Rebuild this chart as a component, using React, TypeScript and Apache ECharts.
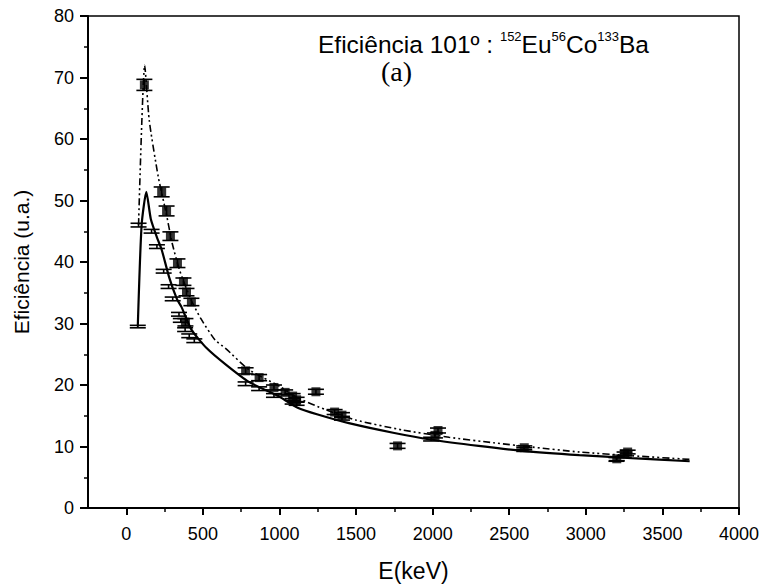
import React, { useEffect, useRef } from "react";
import * as echarts from "echarts";

// Filled squares (with vertical error bars)
const squareE = [118, 231, 263, 288, 334, 373, 393, 425, 386, 779, 867, 964, 1037, 1086, 1112, 1238, 1360, 1408, 1771, 2015, 2035, 2598, 3202, 3253, 3273];
const squareY = [68.8, 51.4, 48.3, 44.2, 39.8, 36.8, 35.1, 33.5, 30.2, 22.3, 21.2, 19.6, 18.8, 18.2, 17.6, 18.9, 15.6, 15.1, 10.1, 11.8, 12.6, 9.8, 8.0, 8.8, 9.1];
const squareErr = [0.9, 0.8, 0.8, 0.7, 0.7, 0.6, 0.6, 0.6, 0.6, 0.5, 0.5, 0.4, 0.4, 0.4, 0.4, 0.4, 0.4, 0.4, 0.4, 0.4, 0.4, 0.3, 0.3, 0.3, 0.3];

// Second data set (error bars only), lying on the solid curve
const crossE = [75, 80, 165, 200, 244, 276, 303, 344, 356, 384, 411, 444, 779, 867, 964, 1086, 1112, 1408, 1990, 2598, 3200];
const crossY = [29.5, 46.0, 45.0, 42.5, 38.5, 36.0, 34.0, 31.5, 30.5, 29.0, 28.0, 27.2, 20.2, 19.4, 18.3, 17.2, 17.0, 14.6, 11.2, 9.5, 7.9];
const crossErr = [0.2, 0.3, 0.3, 0.3, 0.3, 0.3, 0.3, 0.3, 0.3, 0.3, 0.3, 0.3, 0.3, 0.3, 0.3, 0.3, 0.3, 0.3, 0.3, 0.3, 0.3];

// Solid fit curve
const solidE = [75, 100, 131, 160, 200, 231, 280, 330, 360, 425, 524, 650, 800, 1000, 1119, 1250, 1453, 1750, 1996, 2300, 2586, 2958, 3300, 3678];
const solidY = [29.5, 46.0, 51.4, 47.0, 44.0, 42.0, 37.5, 34.0, 32.7, 29.0, 26.0, 23.3, 20.5, 18.1, 16.3, 15.2, 13.8, 12.2, 11.1, 10.1, 9.3, 8.6, 8.1, 7.6];

// Dash-dot-dot fit curve
const dashE = [80, 120, 150, 209, 260, 300, 350, 420, 484, 580, 646, 800, 1000, 1119, 1300, 1498, 1800, 2107, 2400, 2651, 2958, 3300, 3678];
const dashY = [46.0, 72.0, 63.0, 53.8, 48.0, 43.0, 38.5, 34.0, 30.9, 27.3, 26.0, 22.5, 19.8, 17.9, 16.0, 14.3, 12.7, 11.5, 10.6, 9.9, 9.1, 8.5, 7.9];

const xTickValues = [0, 500, 1000, 1500, 2000, 2500, 3000, 3500, 4000];
const xMinorTickValues = [250, 750, 1250, 1750, 2250, 2750, 3250, 3750];

const FONT = "Liberation Sans, Arial, sans-serif";

export default function App() {
  const ref = useRef<HTMLDivElement>(null);
  useEffect(() => {
    if (!ref.current) return;
    const chart = echarts.init(ref.current, null, { renderer: "svg" });

    const errRender = (capHalf: number) => (params: any, api: any) => {
      const x = api.value(0);
      const y = api.value(1);
      const e = api.value(2);
      const top = api.coord([x, y + e]);
      const bot = api.coord([x, y - e]);
      const st = { stroke: "#000", lineWidth: 1.6 };
      return {
        type: "group",
        children: [
          { type: "line", shape: { x1: top[0], y1: top[1], x2: bot[0], y2: bot[1] }, style: st },
          { type: "line", shape: { x1: top[0] - capHalf, y1: top[1], x2: top[0] + capHalf, y2: top[1] }, style: st },
          { type: "line", shape: { x1: bot[0] - capHalf, y1: bot[1], x2: bot[0] + capHalf, y2: bot[1] }, style: st },
        ],
      };
    };

    const option: any = {
      animation: false,
      backgroundColor: "#fff",
      grid: { left: 88, right: 25, top: 16, bottom: 80, show: true, borderColor: "#000", borderWidth: 1.5, backgroundColor: "transparent" },
      xAxis: [
        {
          type: "value",
          min: -250,
          max: 4000,
          axisLine: { onZero: false, lineStyle: { color: "#000", width: 2 } },
          axisTick: { show: true, customValues: xTickValues, length: 7, lineStyle: { color: "#000", width: 2 } },
          axisLabel: { customValues: xTickValues, color: "#000", fontSize: 18, fontFamily: FONT, margin: 17, formatter: (v: number) => String(v) },
          splitLine: { show: false },
          name: "E(keV)",
          nameLocation: "middle",
          nameGap: 51,
          nameTextStyle: { color: "#000", fontSize: 23, fontFamily: FONT },
        },
        {
          type: "value",
          min: -250,
          max: 4000,
          position: "bottom",
          axisLine: { show: false, onZero: false },
          axisTick: { show: true, customValues: xMinorTickValues, length: 4, lineStyle: { color: "#000", width: 1.5 } },
          axisLabel: { show: false },
          splitLine: { show: false },
        },
      ],
      yAxis: {
        type: "value",
        min: 0,
        max: 80,
        interval: 10,
        axisLine: { show: true, onZero: false, lineStyle: { color: "#000", width: 2 } },
        axisTick: { show: true, length: 8, lineStyle: { color: "#000", width: 2 } },
        minorTick: { show: true, splitNumber: 2, length: 4, lineStyle: { color: "#000", width: 1.5 } },
        axisLabel: { color: "#000", fontSize: 18, fontFamily: FONT, margin: 14 },
        splitLine: { show: false },
        name: "Eficiência (u.a.)",
        nameLocation: "middle",
        nameGap: 56,
        nameTextStyle: { color: "#000", fontSize: 21, fontFamily: FONT },
      },
      series: [
        {
          type: "line",
          data: dashE.map((e, i) => [e, dashY[i]]),
          showSymbol: false,
          smooth: 0.2,
          lineStyle: { color: "#000", width: 1.6, type: [7, 3, 2, 3, 2, 3] },
          z: 2,
        },
        {
          type: "line",
          data: solidE.map((e, i) => [e, solidY[i]]),
          showSymbol: false,
          smooth: 0.2,
          lineStyle: { color: "#000", width: 2.2, type: "solid" },
          z: 2,
        },
        {
          type: "custom",
          renderItem: errRender(8),
          data: crossE.map((e, i) => [e, crossY[i], crossErr[i]]),
          encode: { x: 0, y: 1 },
          z: 3,
        },
        {
          type: "custom",
          renderItem: errRender(8),
          data: squareE.map((e, i) => [e, squareY[i], squareErr[i]]),
          encode: { x: 0, y: 1 },
          z: 3,
        },
        {
          type: "scatter",
          data: squareE.map((e, i) => [e, squareY[i]]),
          symbol: "rect",
          symbolSize: 9,
          itemStyle: { color: "#000" },
          z: 4,
        },
      ],
      graphic: [
        {
          type: "text",
          left: 318,
          top: 30,
          style: {
            text: "{n|Eficiência 101º : }{s|152}{n|Eu}{s|56}{n|Co}{s|133}{n|Ba}",
            rich: {
              n: { fontSize: 24.5, fontFamily: FONT, fill: "#000", lineHeight: 28, verticalAlign: "middle" },
              s: { fontSize: 13, fontFamily: FONT, fill: "#000", lineHeight: 28, verticalAlign: "top" },
            },
          },
        },
        {
          type: "text",
          left: 381,
          top: 57,
          style: { text: "(a)", fontSize: 28, fontFamily: "Liberation Serif, Times New Roman, serif", fill: "#000" },
        },
      ],
    };
    chart.setOption(option);
    return () => chart.dispose();
  }, []);
  return <div ref={ref} style={{ position: "fixed", left: 0, top: 0, width: 764, height: 588 }} />;
}
